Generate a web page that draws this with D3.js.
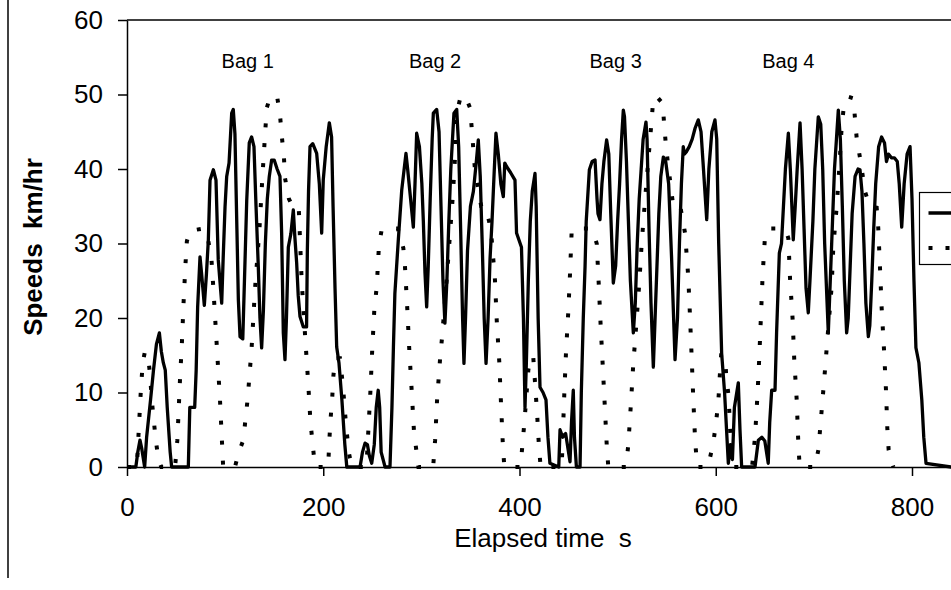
<!DOCTYPE html>
<html>
<head>
<meta charset="utf-8">
<script src="https://cdn.jsdelivr.net/npm/d3@7"></script>
<style>
  html, body { margin: 0; padding: 0; background: #fff; overflow: hidden; }
  svg { display: block; font-family: Arial, "Liberation Sans", sans-serif; }
</style>
</head>
<body>
<div id="chart"></div>
<script>
// tick values
const xTicks = [0, 200, 400, 600, 800];
const yTicks = [0, 10, 20, 30, 40, 50, 60];

// bag annotations (time in s where the label sits)
const bagNames = ['Bag 1', 'Bag 2', 'Bag 3', 'Bag 4'];
const bagTimes = [123, 314, 498, 674];

// solid trace: [time s, speed km/hr]
const solidTrace = [
  [0,0],[9,0],[11,2],[13.2,3.6],[15,2.5],[18,0],[20,4],[24,9],[27,13],[30,16.5],[33,18],[35,15.5],
  [37,14],[39,13],[41,8],[44,2],[45.5,0],[62.5,0],[64,8],[69,8],[70.5,13],[72,21.5],[74.4,28.2],
  [76,26],[78.8,21.7],[81,26],[82.9,30.5],[84.6,38.5],[88,39.9],[90.7,38.5],[93,27.8],[96.5,22],
  [98,28],[99.9,34.9],[101.6,39],[104,40.8],[106.7,47.5],[108.3,48],[110,44.7],[112,32],[113.5,22.4],
  [115.2,17.5],[118,17.2],[120.3,27.8],[122,35.7],[124.6,43.5],[127,44.3],[129.4,43],[131.5,35],
  [133.8,26.9],[135.5,20],[137.2,16],[139,21],[141,30],[143,36],[145,39],[147.4,41.2],[150,41.2],
  [153,40],[155.9,39],[157.6,31.4],[159.3,18],[161,14.4],[162.5,20],[164.4,29.5],[167,31.3],
  [169.5,34.5],[171,31],[172.9,27.4],[174.5,23],[176.3,20.2],[179.7,18.8],[183,18.8],[183.8,29.1],
  [185,37],[186.5,43],[189.3,43.4],[193.3,42.1],[196,38],[198.4,31.4],[200,38.5],[203,43],
  [206.2,46.2],[208.5,44.3],[210,35],[212,24],[213.7,16.1],[216,14],[219,9],[222,3],[224,0],
  [237.5,0],[240,2],[242.6,3.2],[245,3],[247,1.5],[249.4,0.5],[252,3],[254,8],[256,10.3],[257.5,8],
  [259,2],[263,0],[268,0],[270,8],[271.5,16],[273,23.3],[276.5,30.5],[280,37.2],[284.3,42.1],
  [286,40],[289,36],[291.8,32.2],[293.5,38],[295.2,44.8],[298,43],[300.5,38],[302,33],[303.7,26],
  [305.4,21.5],[307,27],[309,36],[311,44],[312.2,47.5],[315.6,48],[318,45],[320,35],[322,25],
  [324,19.3],[326,25],[328,33],[330,40],[333.2,47.5],[336,48],[338,43],[340,32],[342,20],[343.4,13.9],
  [345,20],[347,29],[350,35],[353,37],[356,41],[358,43.9],[360,39],[362,30],[364,20],[365.9,13.9],
  [368,20],[370,28],[372,33],[374,39],[376,44.8],[378.4,42],[381,38],[383.5,36.3],[385,40.8],
  [387,40.3],[391,39.5],[395.4,38.5],[397,31.4],[402,29.5],[404,20],[405.6,8],[407,14],[409,25],
  [411,33],[413,37],[415.8,39.4],[417,35],[419,20],[420.9,10.7],[424,10],[427,9],[429,4],[431,0.5],
  [440,0],[441.3,5],[444,4],[447,4.5],[451.5,0.7],[453,6],[454.8,10.3],[456,4],[458,0],[461.7,0],
  [463,10],[465,20],[466.8,26.9],[468,33],[471.2,39.9],[474,41],[477,41.2],[479,36],[480,34],
  [482,33.2],[484,38],[486,41],[488.8,43.9],[491,42],[493,34],[495.6,24.7],[498,27],[500,33],
  [502,38],[504,44],[505.8,47.9],[507,47],[509,41],[511,33],[513,25],[516,18],[518,22],[520,30],
  [522,36],[524,40],[526,44],[528.9,46.3],[530,44],[532,32],[534,22],[536.4,13.4],[539,23],[542,34],
  [544,39],[546.6,41.6],[549,41],[552,38],[555,28],[558.5,14.4],[561,20],[563,30],[565,38],
  [566.9,43],[568,42],[570,42.3],[573,43],[576,44],[579,45.5],[582.2,46.6],[585,45],[587,41],
  [590.8,33.2],[593,40],[596,45],[599.2,46.6],[601,44],[603,30],[606,15.3],[609,10],[611,5],
  [612.8,0.5],[615,3],[617,1],[619,8],[621.3,9.9],[623,11.3],[624.7,5],[626.4,0],
  [640,0],[643.4,3.6],[647,4],[650,3.5],[653.5,0.5],[655,6],[657,10.3],[660.4,10.3],[662,18],
  [664.8,28.7],[667,30],[669,35],[671,40],[674,44.8],[676,40],[679,30.5],[681,35],[683,40],
  [685.9,46.2],[688,40],[690,32],[692,24],[694.3,20.7],[696,25],[699,33],[701,40],[704.5,47],
  [707,46],[709,40],[711,30],[714.7,18],[717,26],[719,33],[721,40],[723,44],[724.9,47.9],[727,44],
  [729,35],[731,25],[733.4,18],[735,20],[737,27],[739,34],[742,39],[745,40],[747,39.9],[749,37],
  [751,30],[753,22],[755.5,17.5],[757,19],[759,25],[761,32],[763,38],[766,43],[769,44.3],[772,43.5],
  [774,41],[776,42],[779,41.5],[782,41.5],[785,41],[787,38],[789.5,32.2],[792,38],[795,42],[798,43],
  [800,36],[802,25],[804,16],[807,14],[810,9],[812,4],[814.3,0.5],[840,0]
];

// dotted trace: [time s, speed km/hr]
const dottedTrace = [
  [0,0],[10,0],[12,5],[14,10],[16,14],[18,15.3],[21,15.3],[23,13],[26,8],[29,4],[32,1],[35,0],
  [49,0],[51.3,3.6],[54,11.7],[56,16.8],[57.7,22.2],[59.5,27],[61,30.3],[64,31.7],[77,32],[82,31],
  [86,28],[88,24],[91,17.4],[94.8,8.9],[98,0],
  [110,0],[114,2],[118.5,3.6],[123,9.2],[127,16],[130.4,23.8],[134.9,31.8],[138.3,39.6],[142.4,48.2],
  [146,49.7],[153,49.7],[155.9,47.3],[157.6,44.6],[159.9,41.7],[161,38.8],[165,36],[169,34.9],
  [175,34.9],[178,25],[182,16.6],[184.6,11.4],[187,6],[191.6,0],
  [205,0],[206.2,3.6],[207.5,6.5],[209.2,9.4],[210.2,12],[212,14.6],[217,14.6],[220,11],[223,6],
  [226,2],[229,0],
  [244,0],[246,5],[248,10],[250,16],[252,21],[254.5,24.2],[256.8,29.8],[259.5,31.8],[263,32],
  [276,32],[281.6,29.4],[283.3,26.9],[285.7,21.1],[287.7,15.7],[290.1,10.3],[292.5,4.7],[297,0],
  [312,0],[314,3.6],[316,9],[319,14.4],[321,17.3],[326,25.5],[329,31],[332,36.3],[334.3,41.6],
  [336,47.5],[340,49.7],[345,49.7],[349.6,48.2],[351.3,45.5],[353,42.6],[354.6,39.9],[358,37.2],
  [361,35],[365,34.9],[369,33],[371.7,30.5],[375,25.1],[376.8,19.7],[379.4,14.1],[381.1,8.7],
  [382.9,3.4],[384.5,0],
  [401,0],[403,3],[405,6],[407,9.5],[409,13],[411,14.8],[414,14.8],[416,11],[418,7],[419.5,3.5],
  [421.5,0],
  [443,0],[445.7,10],[447.4,15.4],[449.8,21],[451.5,26],[453.2,31.8],[456,32],[472,32],[475,31.5],
  [478.7,30],[480.7,24.7],[482.7,19],[484.8,13.7],[487,8],[489,2.7],[490.5,0],
  [508.5,0],[510.9,3],[513.6,8.6],[516,13.9],[517.7,16.8],[522.1,24.7],[524.5,30],[527.9,35.8],
  [531.3,41.2],[534.7,46.6],[536.4,49.5],[540,49.7],[545.9,48.8],[547.3,46.2],[549.3,43],
  [551.7,40.3],[556.8,34.9],[564,34.9],[568.7,31.4],[572,25.5],[573.8,20.1],[575.5,14.6],
  [577.1,9.2],[578.9,3.8],[581,0],
  [592,0],[597.5,3.2],[600.3,6],[602.6,8.7],[604,12],[605.5,15],[609.5,15],[610.5,12.6],
  [612.8,9.8],[614,7],[615,4],[617,0],
  [637,0],[640,4],[642.4,9.4],[644.4,14.8],[646.1,20.4],[647.8,25.8],[650.2,31],[654,32],[666,32],
  [672,31.5],[674,30.7],[675.7,25.3],[678.4,19.7],[680,14.4],[682.5,9],[684.1,3.4],[685.5,0],
  [701,0],[704.6,2.3],[708,7.7],[711.3,13],[714.7,18.7],[718.1,24.2],[719.8,29.5],[723.2,34.9],
  [726,40.3],[728.3,45.6],[730.7,48.6],[735,49.7],[740.2,49.5],[741.9,46.8],[743.6,44.2],[747,41.5],
  [748.7,40.1],[752,37],[757,35],[764,34.8],[765.6,32.1],[767.4,26.7],[769.1,21.3],[771.5,15.7],
  [773.5,10.3],[774.9,5],[776.2,2.3],[781,0]
];

const width = 951;
const height = 590;

const svg = d3.select('#chart')
  .append('svg')
  .attr('width', width)
  .attr('height', height);

const xScale = d3.scaleLinear().domain([0, 840]).range([127, 951.25]);
const yScale = d3.scaleLinear().domain([0, 60]).range([467, 20]);

// outer chart border (only the left edge is inside the picture)
svg.append('line')
  .attr('x1', 8).attr('x2', 8)
  .attr('y1', 0).attr('y2', 578)
  .attr('stroke', '#000').attr('stroke-width', 1.5);

// plot area top edge
svg.append('line')
  .attr('x1', xScale(0)).attr('x2', width)
  .attr('y1', yScale(60)).attr('y2', yScale(60))
  .attr('stroke', '#000').attr('stroke-width', 1.5);

const line = d3.line()
  .x((d) => xScale(d[0]))
  .y((d) => yScale(d[1]));

svg.append('path')
  .datum(solidTrace)
  .attr('d', line)
  .attr('fill', 'none')
  .attr('stroke', '#000')
  .attr('stroke-width', 3.3)
  .attr('stroke-linejoin', 'round');

svg.append('path')
  .datum(dottedTrace)
  .attr('d', line)
  .attr('fill', 'none')
  .attr('stroke', '#000')
  .attr('stroke-width', 4)
  .attr('stroke-dasharray', '4,16');

// axes
const xAxis = d3.axisBottom(xScale)
  .tickValues(xTicks)
  .tickSize(9)
  .tickSizeOuter(0)
  .tickPadding(22);

const yAxis = d3.axisLeft(yScale)
  .tickValues(yTicks)
  .tickSize(9)
  .tickSizeOuter(0)
  .tickPadding(15);

const gx = svg.append('g')
  .attr('transform', `translate(0, ${yScale(0)})`)
  .call(xAxis);

const gy = svg.append('g')
  .attr('transform', `translate(${xScale(0)}, 0)`)
  .call(yAxis);

[gx, gy].forEach((g) => {
  g.select('.domain').attr('stroke', '#000').attr('stroke-width', 1.5);
  g.selectAll('.tick line').attr('stroke', '#000').attr('stroke-width', 1.5);
  g.selectAll('.tick text')
    .attr('fill', '#000')
    .style('font-family', 'Arial, "Liberation Sans", sans-serif')
    .style('font-size', '26px');
});

// bag labels
svg.append('g')
  .selectAll('text')
  .data(bagNames)
  .join('text')
  .attr('x', (d, i) => xScale(bagTimes[i]))
  .attr('y', 68)
  .attr('text-anchor', 'middle')
  .style('font-size', '20px')
  .text((d) => d);

// axis titles
svg.append('text')
  .attr('x', 543)
  .attr('y', 547)
  .attr('text-anchor', 'middle')
  .style('font-size', '26px')
  .style('white-space', 'pre')
  .text('Elapsed time  s');

svg.append('text')
  .attr('transform', 'translate(42, 247) rotate(-90)')
  .attr('text-anchor', 'middle')
  .style('font-size', '26px')
  .style('font-weight', 'bold')
  .style('white-space', 'pre')
  .text('Speeds  km/hr');

// legend (cut off at the right edge of the picture)
const legend = svg.append('g').attr('transform', 'translate(919.5, 192.5)');

legend.append('rect')
  .attr('width', 120)
  .attr('height', 72)
  .attr('fill', '#fff')
  .attr('stroke', '#000')
  .attr('stroke-width', 1.2);

legend.append('line')
  .attr('x1', 9).attr('x2', 60)
  .attr('y1', 20.5).attr('y2', 20.5)
  .attr('stroke', '#000')
  .attr('stroke-width', 3.3);

legend.append('line')
  .attr('x1', 9).attr('x2', 60)
  .attr('y1', 55.5).attr('y2', 55.5)
  .attr('stroke', '#000')
  .attr('stroke-width', 4)
  .attr('stroke-dasharray', '4,13');
</script>
</body>
</html>
